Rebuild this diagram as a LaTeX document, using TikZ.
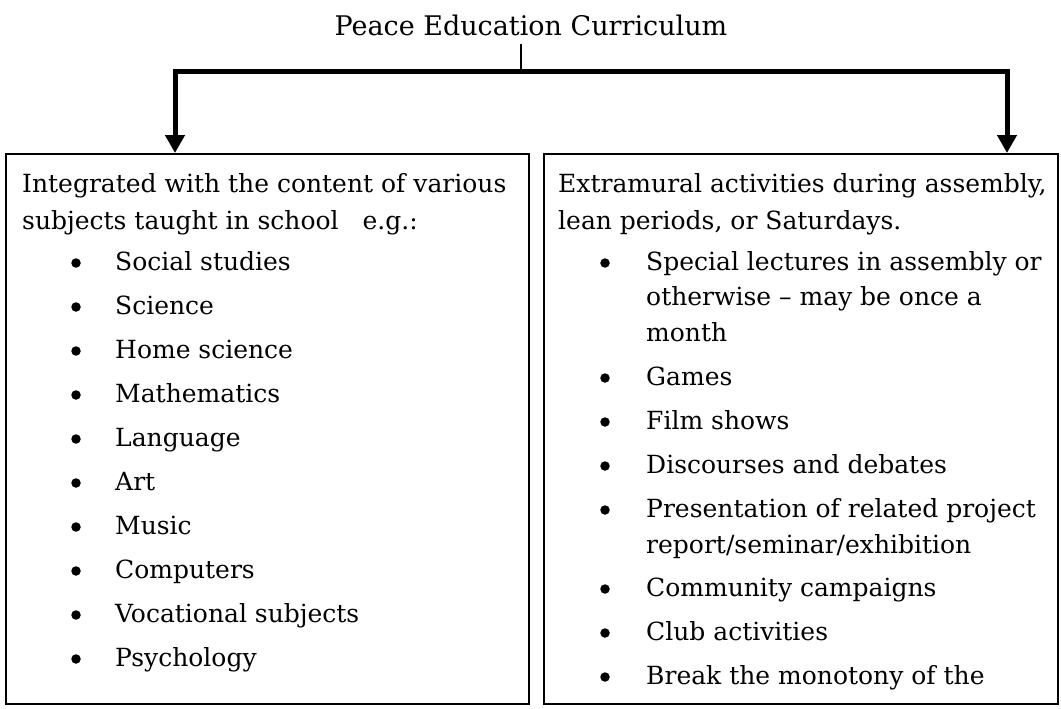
\documentclass[tikz,border=0pt]{standalone}
\usepackage{fontspec}
\setmainfont{DejaVu Serif}
\usetikzlibrary{arrows.meta}
\begin{document}
\begin{tikzpicture}[x=1pt,y=-1pt,
  txt/.style={anchor=base west, inner sep=0pt, font=\fontsize{25}{30}\selectfont},
  bul/.style={circle, fill=black, inner sep=0pt, minimum size=9.5pt},
  box/.style={draw, line width=2pt, inner sep=0pt, anchor=north west},
  arr/.style={line width=5pt, line join=miter, -{Triangle[width=19pt,length=18pt]}},
  stub/.style={line width=1.5pt}]
\useasboundingbox (0,0) rectangle (1061,709);
% title
\node[anchor=base, inner sep=0pt, font=\fontsize{27}{32}\selectfont] (title) at (531,36) {Peace Education Curriculum};
% boxes
\node[box, minimum width=523pt, minimum height=550pt] (lbox) at (5,153) {};
\node[box, minimum width=514pt, minimum height=550pt] (rbox) at (543,153) {};
% connectors
\coordinate (j) at (521,72);
\coordinate (la) at (175,72);
\coordinate (ra) at (1007,72);
\draw[stub] (title.south -| j) ++(0,7) -- (j);
\draw[arr] (j) -- (la) -- (la |- lbox.north);
\draw[arr] (j) -- (ra) -- (ra |- rbox.north);
% left box text
\node[txt] (lh1) at (22,192) {Integrated with the content of various};
\node[txt] (lh2) at (22,229) {subjects taught in school\hspace{24pt}e.g.:};
\foreach \t [count=\i] in {Social studies, Science, Home science, Mathematics, Language, Art, Music, Computers, Vocational subjects, Psychology} {
  \node[bul] (lb\i) at (76,{263+44*(\i-1)}) {};
  \node[txt] (lt\i) at (115,{270+44*(\i-1)}) {\t};
}
% right box text
\node[txt] (rh1) at (558,192) {Extramural activities during assembly,};
\node[txt] (rh2) at (558,229) {lean periods, or Saturdays.};
\node[bul] (rb1) at (605,263) {};
\node[txt] (rt1) at (646,270) {Special lectures in assembly or};
\node[txt] (rt1b) at (646,305) {otherwise -- may be once a};
\node[txt] (rt1c) at (646,341) {month};
\node[bul] (rb2) at (605,378) {};
\node[txt] (rt2) at (646,385) {Games};
\node[bul] (rb3) at (605,422) {};
\node[txt] (rt3) at (646,429) {Film shows};
\node[bul] (rb4) at (605,466) {};
\node[txt] (rt4) at (646,473) {Discourses and debates};
\node[bul] (rb5) at (605,510) {};
\node[txt] (rt5) at (646,517) {Presentation of related project};
\node[txt] (rt5b) at (646,553) {report/seminar/exhibition};
\node[bul] (rb6) at (605,589) {};
\node[txt] (rt6) at (646,596) {Community campaigns};
\node[bul] (rb7) at (605,633) {};
\node[txt] (rt7) at (646,640) {Club activities};
\node[bul] (rb8) at (605,677) {};
\node[txt] (rt8) at (646,684) {Break the monotony of the};
\end{tikzpicture}
\end{document}
